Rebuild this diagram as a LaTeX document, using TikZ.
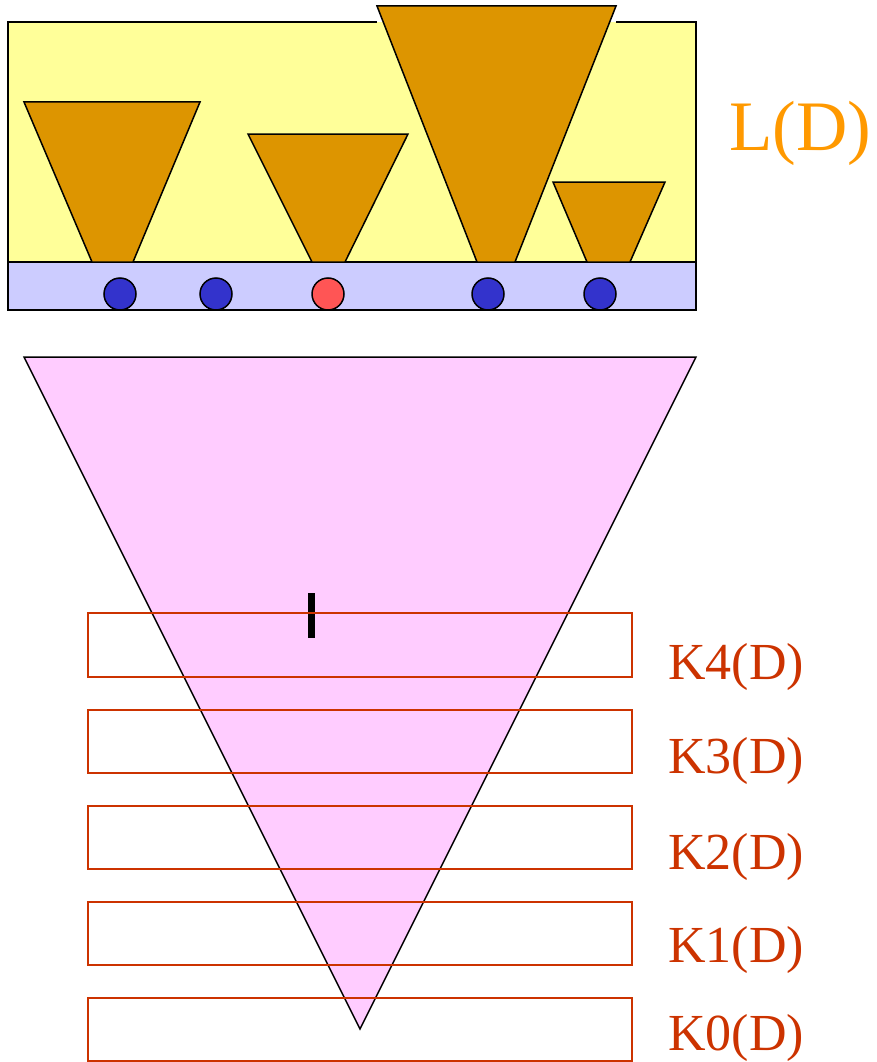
\documentclass[tikz,border=0pt]{standalone}
\usepackage{fontspec}
\setmainfont{Liberation Serif}
\definecolor{yel}{HTML}{FFFF99}
\definecolor{lav}{HTML}{CCCCFF}
\definecolor{cone}{HTML}{DD9500}
\definecolor{pinkf}{HTML}{FFCCFF}
\definecolor{dblue}{HTML}{3333CC}
\definecolor{lred}{HTML}{FF5555}
\definecolor{kred}{HTML}{CC3300}
\definecolor{lorange}{HTML}{FF9900}
\tikzset{
  outl/.style={draw=black,line width=1.5pt,line join=miter},
  conebox/.style={outl,fill=cone},
  dot/.style={circle,draw=black,line width=1.5pt,minimum size=32pt,inner sep=0pt},
  kbox/.style={draw=kred,line width=1.5pt},
  klabel/.style={text=kred,font=\fontsize{52}{58}\selectfont,anchor=base west,inner sep=0pt},
}
\begin{document}
\begin{tikzpicture}[x=1pt,y=-1pt]
\useasboundingbox (0,0) rectangle (876,1062);
% top panel
\fill[yel] (8,22) rectangle (696,262);
\draw[outl] (8,262) -- (8,22) -- (377,22);
\draw[outl] (616,22) -- (696,22) -- (696,262);
\draw[outl,fill=lav] (8,262) rectangle (696,310);
% cones
\draw[conebox] (24,102) -- (200,102) -- (133,262) -- (92,262) -- cycle;
\draw[conebox] (248,134) -- (408,134) -- (345,262) -- (312,262) -- cycle;
\draw[conebox] (377,6) -- (616,6) -- (515,262) -- (477,262) -- cycle;
\draw[conebox] (553,182) -- (665,182) -- (630,262) -- (587,262) -- cycle;
% dots
\node[dot,fill=dblue] (d1) at (120,294) {};
\node[dot,fill=dblue] (d2) at (216,294) {};
\node[dot,fill=lred] (d3) at (328,294) {};
\node[dot,fill=dblue] (d4) at (488,294) {};
\node[dot,fill=dblue] (d5) at (600,294) {};
\node[text=lorange,font=\fontsize{71}{76}\selectfont,anchor=base west,inner sep=0pt] (LD) at (729,150) {L(D)};
% big pink cone
\draw[outl,fill=pinkf] (24,357) -- (696,357) -- (360,1029) -- cycle;
% tick
\fill[black] (308,593) rectangle (315,638);
% K boxes
\draw[kbox] (88,613) rectangle (632,677);
\draw[kbox] (88,710) rectangle (632,773);
\draw[kbox] (88,806) rectangle (632,869);
\draw[kbox] (88,902) rectangle (632,965);
\draw[kbox] (88,998) rectangle (632,1061);
\node[klabel] (K4) at (668,679) {K4(D)};
\node[klabel] (K3) at (668,773) {K3(D)};
\node[klabel] (K2) at (668,869) {K2(D)};
\node[klabel] (K1) at (668,962) {K1(D)};
\node[klabel] (K0) at (668,1050) {K0(D)};
\end{tikzpicture}
\end{document}
